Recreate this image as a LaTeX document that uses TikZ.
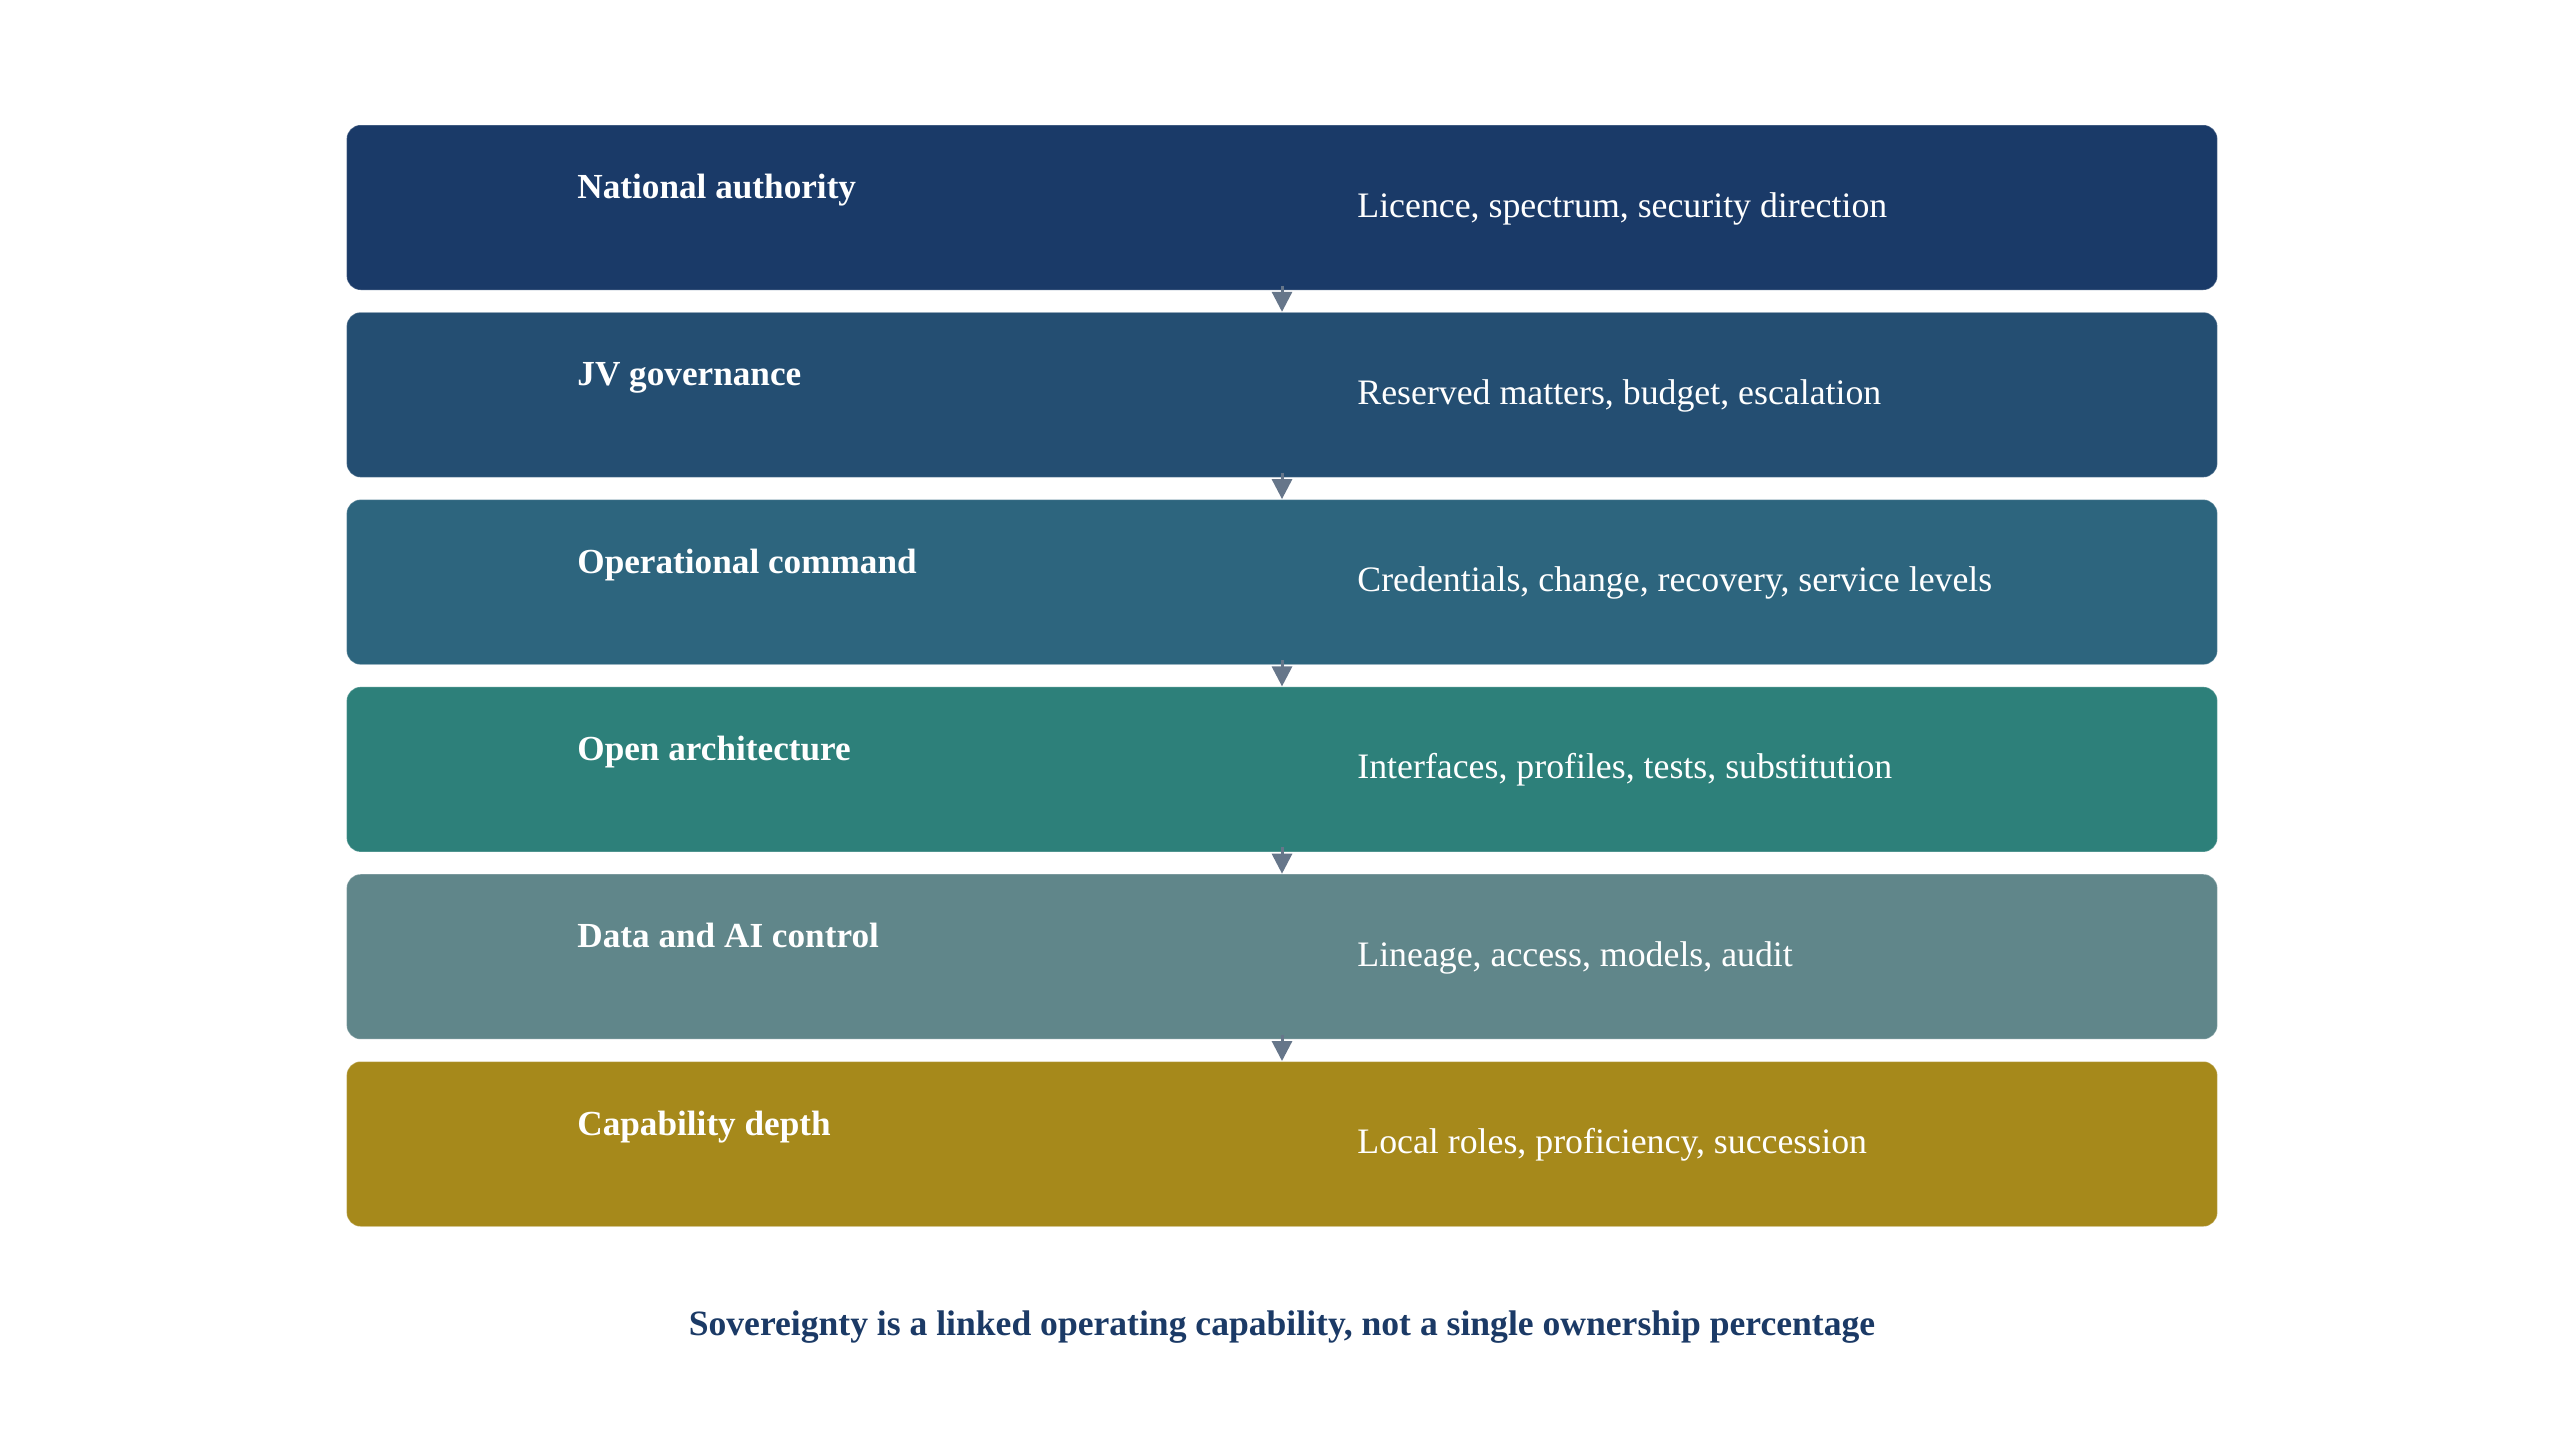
\documentclass[tikz,border=0pt]{standalone}
\usepackage{fontspec}
\setmainfont{Liberation Serif}
\usetikzlibrary{arrows.meta}
\definecolor{c1}{HTML}{1A3A68}
\definecolor{c2}{HTML}{244E72}
\definecolor{c3}{HTML}{2D657E}
\definecolor{c4}{HTML}{2D807A}
\definecolor{c5}{HTML}{60868A}
\definecolor{c6}{HTML}{A6891B}
\definecolor{arrowc}{HTML}{66768A}
\definecolor{capc}{HTML}{1B3A66}
\tikzset{
  layerbox/.style={rectangle, rounded corners=7pt, minimum width=935.35pt, minimum height=82.5pt, draw=white, draw opacity=0.25, line width=0.5pt, inner sep=0pt},
  layertitle/.style={anchor=base west, text=white, font=\fontsize{17.6pt}{20pt}\selectfont\bfseries, inner sep=0pt},
  layerdesc/.style={anchor=base west, text=white, font=\fontsize{17.9pt}{20pt}\selectfont, inner sep=0pt},
  linkarrow/.style={draw=arrowc, line width=1.5pt, -{Triangle[length=10pt, width=10pt]}},
  captext/.style={anchor=base, text=capc, font=\fontsize{17.8pt}{20pt}\selectfont\bfseries, inner sep=0pt}
}
\begin{document}
\begin{tikzpicture}[x=0.5pt, y=-0.5pt]
\useasboundingbox (0,0) rectangle (2564,1436);
\fill[white] (0,0) rectangle (2564,1436);
\node[layerbox, fill=c1] (b1) at (1282, 207.5) {};
\node[layerbox, fill=c2] (b2) at (1282, 394.8) {};
\node[layerbox, fill=c3] (b3) at (1282, 582.1) {};
\node[layerbox, fill=c4] (b4) at (1282, 769.4) {};
\node[layerbox, fill=c5] (b5) at (1282, 956.7) {};
\node[layerbox, fill=c6] (b6) at (1282, 1144.0) {};
\node[layertitle] (t1) at (577, 198.5) {National authority};
\node[layertitle] (t2) at (577, 385.8) {JV governance};
\node[layertitle] (t3) at (577, 573.1) {Operational command};
\node[layertitle] (t4) at (577, 760.4) {Open architecture};
\node[layertitle] (t5) at (577, 947.7) {Data and AI control};
\node[layertitle] (t6) at (577, 1135.0) {Capability depth};
\node[layerdesc] (d1) at (1357, 217.0) {Licence, spectrum, security direction};
\node[layerdesc] (d2) at (1357, 404.3) {Reserved matters, budget, escalation};
\node[layerdesc] (d3) at (1357, 591.6) {Credentials, change, recovery, service levels};
\node[layerdesc] (d4) at (1357, 778.9) {Interfaces, profiles, tests, substitution};
\node[layerdesc] (d5) at (1357, 966.2) {Lineage, access, models, audit};
\node[layerdesc] (d6) at (1357, 1153.5) {Local roles, proficiency, succession};
\draw[linkarrow] ([yshift=2.5pt]b1.south) -- (b2.north);
\draw[linkarrow] ([yshift=2.5pt]b2.south) -- (b3.north);
\draw[linkarrow] ([yshift=2.5pt]b3.south) -- (b4.north);
\draw[linkarrow] ([yshift=2.5pt]b4.south) -- (b5.north);
\draw[linkarrow] ([yshift=2.5pt]b5.south) -- (b6.north);
\node[captext] (cap) at (1282, 1335.5) {Sovereignty is a linked operating capability, not a single ownership percentage};
\end{tikzpicture}
\end{document}
